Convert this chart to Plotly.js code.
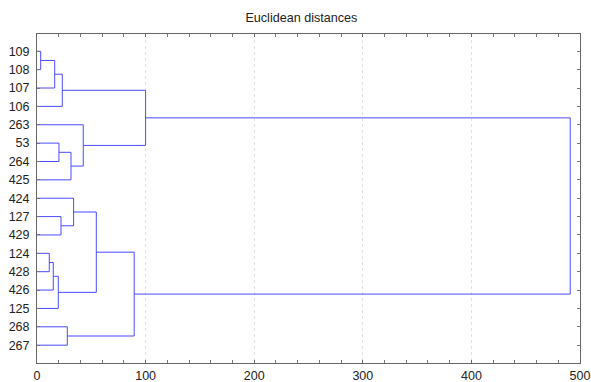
<!DOCTYPE html>
<html>
<head>
<meta charset="utf-8">
<script src="https://cdn.plot.ly/plotly-3.0.1.min.js"></script>
<style>html,body{margin:0;padding:0;background:#fff;}#chart{width:591px;height:382px;}</style>
</head>
<body>
<div id="chart"></div>
<script>
// Leaf labels in drawing order (top to bottom)
const leafLabels = ["109","108","107","106","263","53","264","425","424","127","429","124","428","426","125","268","267"];
// Linkage: [left node, right node, linkage distance]; nodes 0..16 are leaves, 17+ are merges in order
const mergeLeft   = [0, 17, 18, 5, 20, 4, 19, 9, 8, 11, 26, 27, 25, 15, 29, 23];
const mergeRight  = [1, 2, 3, 6, 7, 21, 22, 10, 24, 12, 13, 14, 28, 16, 30, 31];
const mergeHeight = [3.4, 16.3, 23.3, 20.2, 31.3, 42.6, 100, 22.1, 33.7, 11.3, 15, 19.6, 54.6, 27.9, 89.5, 491];
const xTickVals = [0, 100, 200, 300, 400, 500];

const nodeY = leafLabels.map((_, i) => i + 1);
const nodeH = leafLabels.map(() => 0);
const xs = [], ys = [];
for (let k = 0; k < mergeHeight.length; k++) {
  const a = mergeLeft[k], b = mergeRight[k], h = mergeHeight[k];
  xs.push(nodeH[a], h, h, nodeH[b], null);
  ys.push(nodeY[a], nodeY[a], nodeY[b], nodeY[b], null);
  nodeY.push((nodeY[a] + nodeY[b]) / 2);
  nodeH.push(h);
}

const trace = {
  type: 'scatter', mode: 'lines', x: xs, y: ys,
  line: {color: 'rgb(75,75,255)', width: 1},
  hoverinfo: 'skip', showlegend: false
};

const layout = {
  width: 591, height: 382,
  margin: {l: 37, r: 11, t: 34, b: 19},
  paper_bgcolor: '#fff', plot_bgcolor: '#fff',
  font: {family: 'Liberation Sans, Arial, sans-serif', color: '#222'},
  title: {text: 'Euclidean distances', x: 0.51, xanchor: 'center', y: 0.955, yanchor: 'middle',
          font: {size: 12.6, color: '#222'}},
  xaxis: {
    range: [0, 500], tickvals: xTickVals, ticktext: xTickVals.map(String),
    ticks: 'inside', ticklen: 3, tickcolor: '#666',
    minor: {dtick: 20, tick0: 0, ticks: 'inside', ticklen: 3, tickcolor: '#777', showgrid: false},
    showgrid: true, gridcolor: '#e2e2e2', griddash: 'dot', gridwidth: 1,
    showline: true, linecolor: '#666', linewidth: 1, mirror: 'ticks',
    zeroline: false, tickfont: {size: 12.5, color: '#222'}, ticklabelstandoff: 1
  },
  yaxis: {
    range: [17.97, 0.06], tickvals: leafLabels.map((_, i) => i + 1), ticktext: leafLabels,
    ticks: 'inside', ticklen: 3, tickcolor: '#777',
    showgrid: false, showline: true, linecolor: '#666', linewidth: 1, mirror: 'ticks',
    zeroline: false, tickfont: {size: 12.5, color: '#222'}, ticklabelstandoff: 4
  }
};

Plotly.newPlot('chart', [trace], layout, {displayModeBar: false, staticPlot: true});
</script>
</body>
</html>
